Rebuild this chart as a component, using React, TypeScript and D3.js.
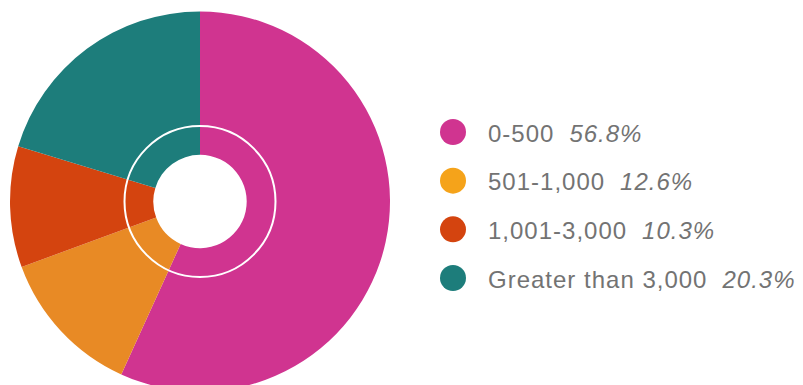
import React from "react";
import * as d3 from "d3";

const categories = ["0-500", "501-1,000", "1,001-3,000", "Greater than 3,000"];
const values = [56.8, 12.6, 10.3, 20.3];
const sliceColors = ["#D03490", "#E88A25", "#D4440F", "#1D7D7B"];
const legendColors = ["#D03490", "#F5A31A", "#D4440F", "#1D7D7B"];

export default function App() {
  const width = 803;
  const height = 385;
  const cx = 200;
  const cy = 201.5;
  const outerR = 190;
  const innerR = 46.7;
  const ringR = 75.5;

  const pie = d3.pie<number>().sort(null).value((d) => d);
  const arcs = pie(values);
  const arc = d3.arc<d3.PieArcDatum<number>>().innerRadius(innerR).outerRadius(outerR);

  const legendY = d3.scalePoint<string>().domain(categories).range([132, 278]);

  return (
    <svg width={width} height={height} style={{ position: "absolute", left: 0, top: 0 }}>
      <g transform={`translate(${cx},${cy})`}>
        {arcs.map((a, i) => (
          <path key={i} d={arc(a) || ""} fill={sliceColors[i]} />
        ))}
        <circle r={ringR} fill="none" stroke="#fff" strokeWidth={2} />
      </g>
      <g fontFamily="'Liberation Sans', Arial, sans-serif" fontSize={24} fill="#737373" letterSpacing={1}>
        {categories.map((c, i) => {
          const y = legendY(c) as number;
          return (
            <g key={c}>
              <circle cx={453} cy={y} r={13} fill={legendColors[i]} />
              <text x={488} y={y + 9.5}>
                <tspan>{c}</tspan>
                <tspan dx={15} fontStyle="italic">{values[i].toFixed(1)}%</tspan>
              </text>
            </g>
          );
        })}
      </g>
    </svg>
  );
}
